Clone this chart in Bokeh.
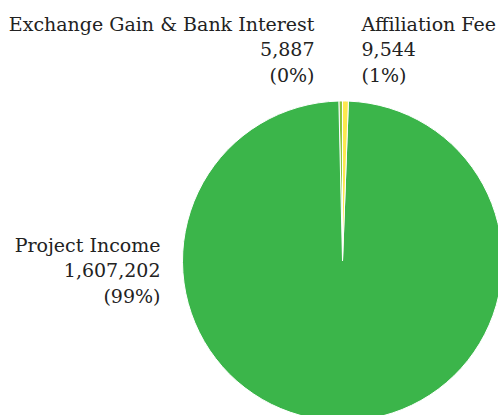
import math
from bokeh.plotting import figure
from bokeh.models import Range1d, ColumnDataSource
from bokeh.core.properties import value
from bokeh.embed import file_html
from bokeh.resources import INLINE

# ---- data ----
categories = ["Exchange Gain & Bank Interest", "Project Income", "Affiliation Fee"]
amounts = [5887, 1607202, 9544]
colors = ["#8cc63e", "#3bb54a", "#fde84e"]

W, H = 498, 415
p = figure(width=W, height=H, output_backend="svg", toolbar_location=None,
           x_range=Range1d(0, W), y_range=Range1d(0, H), min_border=0,
           outline_line_color=None)
p.axis.visible = False
p.grid.visible = False

OX, OY = 0, 0  # page offset of the canvas


def px(x):
    return x - OX


def py(y):
    return H - (y - OY)


cx, cy, r = px(342), py(260.5), 160
total = sum(amounts)
start = []
end = []
a = math.pi / 2
for v in amounts:
    start.append(a)
    a += 2 * math.pi * v / total
    end.append(a)

src = ColumnDataSource(dict(x=[cx] * 3, y=[cy] * 3, start=start, end=end, color=colors))
p.wedge(x="x", y="y", radius=r, radius_units="screen", start_angle="start", end_angle="end",
        fill_color="color", line_color="white", line_width=1, source=src)

# label anchors (layout, page pixels of the first line)
anchors = {
    "Exchange Gain & Bank Interest": (314, 23, "right"),
    "Affiliation Fee": (361, 23, "left"),
    "Project Income": (160, 244, "right"),
}
spacing = 25.5
font = value("DejaVu Serif")
for cat, v in zip(categories, amounts):
    x0, y0, align = anchors[cat]
    pct = round(100 * v / total)
    lines = [cat, f"{v:,}", f"({pct}%)"]
    for i, t in enumerate(lines):
        p.text(x=[px(x0)], y=[py(y0 + i * spacing)], text=[t], text_font=font,
               text_font_size="19px", text_color="#222222", text_align=align,
               text_baseline="alphabetic")

open("out.html", "w").write(file_html(p, INLINE))
